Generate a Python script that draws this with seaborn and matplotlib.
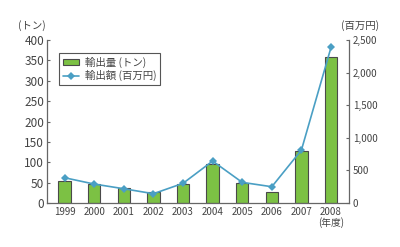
import matplotlib
matplotlib.use("Agg")
import matplotlib.pyplot as plt
import seaborn as sns
import numpy as np
import pandas as pd
from matplotlib.patches import Patch
from matplotlib.lines import Line2D

years = ["1999", "2000", "2001", "2002", "2003", "2004", "2005", "2006", "2007", "2008"]
tons = [54, 47, 37, 26, 46, 97, 48, 26, 127, 359]
million_yen = [388, 291, 219, 143, 302, 644, 317, 250, 813, 2388]
xlabels = ["1999", "2000", "2001", "2002", "2003", "2004", "2005", "2006", "2007", "2008\n(年度)"]

sns.set_theme(style="white")
plt.rcParams['font.family'] = ['Noto Sans CJK JP', 'DejaVu Sans']
txt = "#444444"
spine = "#666666"

df = pd.DataFrame({"year": years, "tons": tons, "yen": million_yen, "pos": np.arange(len(years))})

fig = plt.figure(figsize=(4.0, 2.47), dpi=100)
ax = fig.add_axes([0.117, 0.178, 0.755, 0.66])
sns.barplot(data=df, x="year", y="tons", ax=ax, color="#7cc144", width=0.42,
            edgecolor="#4a4a4a", linewidth=0.8, saturation=1)
ax2 = ax.twinx()
sns.lineplot(data=df, x="pos", y="yen", ax=ax2, color="#4a9fc4", linewidth=1.2,
             marker="D", markersize=4.5, markeredgewidth=0)

ax.set_ylim(0, 400)
ax.set_yticks(np.arange(0, 401, 50))
ax2.set_ylim(0, 2500)
ax2.set_yticks(np.arange(0, 2501, 500))
ax2.set_yticklabels([f"{v:,}" for v in range(0, 2501, 500)])
ax.set_xlim(-0.6, 9.6)
ax2.set_xlim(-0.6, 9.6)
ax.set_xticks(np.arange(10))
ax.set_xticklabels(xlabels, fontsize=7, color=txt, linespacing=1.0)
ax.tick_params(axis="x", length=0, pad=3)
ax.tick_params(axis="y", direction="in", length=2.5, width=0.8, color=spine, labelsize=8.5, labelcolor=txt, pad=2)
ax2.tick_params(axis="y", direction="in", length=2.5, width=0.8, color=spine, labelsize=7, labelcolor=txt, pad=3)
ax.set_xticks(np.arange(-0.5, 9.6, 1), minor=True)
ax.tick_params(axis="x", which="minor", direction="in", length=2, width=0.8, color=spine)

ax.set_xlabel("")
ax.set_ylabel("")
ax2.set_xlabel("")
ax2.set_ylabel("")
for a in (ax, ax2):
    a.spines["top"].set_visible(False)
    for s in ("left", "bottom", "right"):
        a.spines[s].set_color(spine)
        a.spines[s].set_linewidth(0.9)
ax.spines["right"].set_visible(False)
ax2.spines["left"].set_visible(False)
ax2.spines["bottom"].set_visible(False)

fig.text(0.045, 0.895, "(トン)", fontsize=7.5, color=txt, ha="left", va="center")
fig.text(0.852, 0.895, "(百万円)", fontsize=7.5, color=txt, ha="left", va="center")

handles = [Patch(facecolor="#7cc144", edgecolor="#4a4a4a", linewidth=0.8),
           Line2D([0], [0], color="#4a9fc4", linewidth=1.2, marker="D", markersize=4, markeredgewidth=0)]
leg = ax2.legend(handles, ["輸出量 (トン)", "輸出額 (百万円)"], loc="upper left",
                 bbox_to_anchor=(0.022, 0.955), fontsize=7.5, frameon=True, fancybox=False,
                 handlelength=1.6, handleheight=0.5, borderpad=0.4, labelspacing=0.2,
                 handletextpad=0.5, labelcolor=txt, framealpha=1)
leg.get_frame().set_edgecolor("#555555")
leg.get_frame().set_linewidth(0.8)

fig.savefig("out.png", dpi=100)
